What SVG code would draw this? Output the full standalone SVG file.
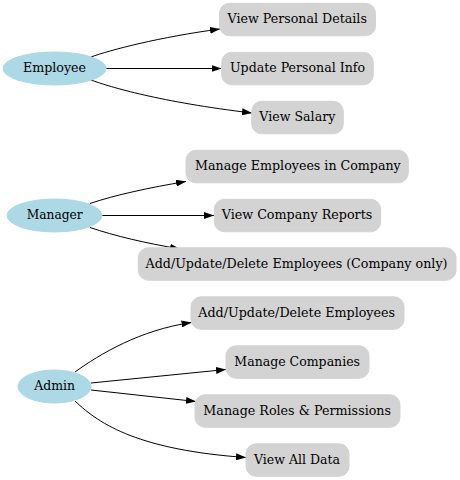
<svg xmlns="http://www.w3.org/2000/svg" width="460" height="480" viewBox="0 0 460 480">
<style>
  .role ellipse { fill: #add8e6; stroke: #add8e6; }
  .perm rect { fill: #d3d3d3; stroke: #d3d3d3; }
  text { font-family: "DejaVu Serif", "Liberation Serif", serif; font-size: 13px; fill: #000; text-anchor: middle; }
  .edge { fill: none; stroke: #000; stroke-width: 1; marker-end: url(#arr); }
</style>
<defs>
  <marker id="arr" viewBox="0 0 10 7" refX="10" refY="3.5" markerWidth="10" markerHeight="7" markerUnits="userSpaceOnUse" orient="auto">
    <path d="M0,0 L10,3.5 L0,7 Z" fill="#000"/>
  </marker>
</defs>
<rect width="460" height="480" fill="#fff"/>
<g id="edges">
  <path class="edge" d="M91,57 C110,50 160,37 220,29"/>
  <path class="edge" d="M106,68.5 L221.5,68.5"/>
  <path class="edge" d="M91,80 C110,87 160,102 252,113"/>
  <path class="edge" d="M90,203.5 C115,195 150,187.5 186,181.5"/>
  <path class="edge" d="M102,215.5 L214,215.5"/>
  <path class="edge" d="M90,227.5 C115,236 145,243 180,249"/>
  <path class="edge" d="M75,372 C100,354 140,330 191.5,322.5"/>
  <path class="edge" d="M91,383 L226,369.5"/>
  <path class="edge" d="M91,390 L196,401.5"/>
  <path class="edge" d="M75,401 C100,425 140,450 246,457.5"/>
</g>
<g id="employee" class="role"><ellipse cx="54.5" cy="68.5" rx="51.5" ry="16.5"/><text x="54.5" y="72" textLength="63" lengthAdjust="spacingAndGlyphs">Employee</text></g>
<g id="manager" class="role"><ellipse cx="54.5" cy="215.5" rx="47.5" ry="16.5"/><text x="54.7" y="219" textLength="56" lengthAdjust="spacingAndGlyphs">Manager</text></g>
<g id="admin" class="role"><ellipse cx="54.5" cy="386.5" rx="36.5" ry="16.5"/><text x="54.7" y="390" textLength="40.7" lengthAdjust="spacingAndGlyphs">Admin</text></g>

<g id="view_personal" class="perm"><rect x="219.5" y="3.3" width="156" height="32.5" rx="10"/><text x="297.2" y="23" textLength="139.4" lengthAdjust="spacingAndGlyphs">View Personal Details</text></g>
<g id="update_personal" class="perm"><rect x="221.7" y="52.3" width="151.6" height="32.5" rx="10"/><text x="297.5" y="72" textLength="135" lengthAdjust="spacingAndGlyphs">Update Personal Info</text></g>
<g id="view_salary" class="perm"><rect x="251.7" y="101.3" width="91.6" height="32.5" rx="10"/><text x="297.3" y="121" textLength="76" lengthAdjust="spacingAndGlyphs">View Salary</text></g>

<g id="manage_emp_company" class="perm"><rect x="186" y="150.3" width="222.3" height="32.5" rx="10"/><text x="297.9" y="170" textLength="205.7" lengthAdjust="spacingAndGlyphs">Manage Employees in Company</text></g>
<g id="view_company_reports" class="perm"><rect x="214.3" y="199.3" width="166.4" height="32.5" rx="10"/><text x="297" y="219" textLength="150.6" lengthAdjust="spacingAndGlyphs">View Company Reports</text></g>
<g id="crud_emp_company" class="perm"><rect x="138.3" y="247.8" width="317.7" height="32.5" rx="10"/><text x="296.5" y="267.5" textLength="302" lengthAdjust="spacingAndGlyphs">Add/Update/Delete Employees (Company only)</text></g>

<g id="crud_emp" class="perm"><rect x="191" y="296.8" width="213" height="32.5" rx="10"/><text x="296.7" y="316.5" textLength="196.7" lengthAdjust="spacingAndGlyphs">Add/Update/Delete Employees</text></g>
<g id="manage_companies" class="perm"><rect x="226" y="345.8" width="143" height="32.5" rx="10"/><text x="297.2" y="365.5" textLength="125.7" lengthAdjust="spacingAndGlyphs">Manage Companies</text></g>
<g id="manage_roles" class="perm"><rect x="195" y="394.8" width="205" height="32.5" rx="10"/><text x="297.2" y="414.5" textLength="187.7" lengthAdjust="spacingAndGlyphs">Manage Roles &amp; Permissions</text></g>
<g id="view_all" class="perm"><rect x="246" y="443.8" width="103" height="32.5" rx="10"/><text x="297" y="463.5" textLength="86" lengthAdjust="spacingAndGlyphs">View All Data</text></g>
</svg>
